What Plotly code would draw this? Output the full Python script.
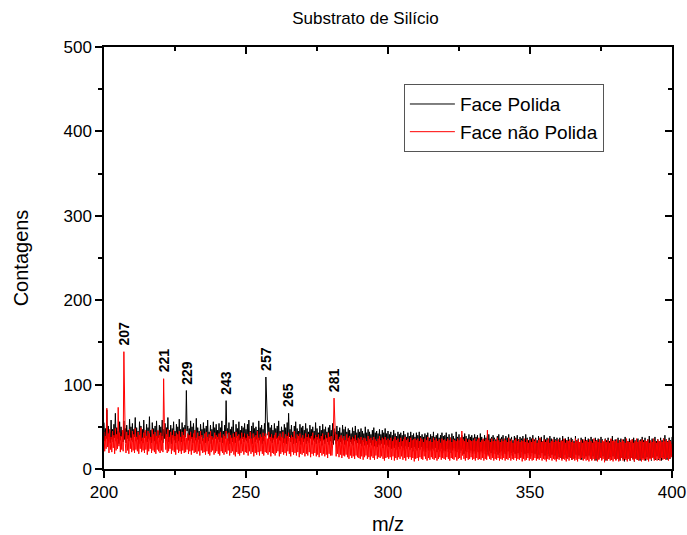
import plotly.graph_objects as go

# m/z sampling (0.25 step from 200 to 400)
mz = [200 + 0.25 * i for i in range(801)]

# Face Polida (black) counts; each row covers 10 m/z units (40 samples)
polida = [
    55, 33, 48, 36, 70, 34, 51, 38, 44, 31, 58, 35, 47, 32, 53, 37, 66, 33, 49, 36,
    45, 30, 56, 34, 50, 38, 43, 32, 57, 35, 48, 31, 52, 36, 46, 33, 59, 37, 50, 34,
    54, 32, 47, 38, 61, 33, 49, 35, 45, 30, 56, 36, 51, 33, 47, 31, 58, 37, 44, 34,
    53, 32, 49, 36, 62, 34, 46, 31, 55, 38, 48, 33, 51, 30, 57, 35, 45, 37, 52, 32,
    50, 34, 58, 31, 47, 36, 54, 33, 49, 38, 61, 32, 46, 35, 52, 30, 48, 37, 56, 34,
    45, 31, 53, 36, 50, 33, 59, 35, 47, 32, 55, 36, 49, 33, 52, 38, 93, 45, 51, 34,
    48, 33, 57, 36, 50, 31, 54, 37, 46, 34, 60, 32, 49, 35, 45, 30, 53, 38, 47, 33,
    55, 36, 48, 31, 51, 34, 58, 33, 44, 37, 52, 30, 47, 35, 56, 33, 49, 36, 53, 31,
    46, 35, 54, 32, 49, 37, 57, 31, 45, 34, 52, 36, 81, 42, 48, 33, 55, 30, 47, 36,
    50, 32, 58, 35, 44, 31, 53, 37, 48, 33, 56, 34, 46, 30, 51, 36, 49, 32, 54, 35,
    47, 33, 53, 31, 58, 36, 45, 34, 51, 30, 55, 37, 48, 32, 50, 35, 46, 31, 57, 34,
    49, 36, 52, 30, 47, 33, 54, 38, 109, 70, 58, 40, 55, 36, 49, 33, 52, 31, 46, 35,
    54, 32, 48, 36, 51, 30, 57, 34, 45, 33, 50, 37, 46, 31, 53, 35, 49, 30, 55, 33,
    66, 38, 47, 32, 52, 35, 44, 30, 51, 34, 56, 31, 48, 36, 45, 33, 53, 29, 49, 35,
    51, 32, 46, 35, 54, 30, 48, 33, 44, 31, 52, 36, 47, 29, 50, 34, 45, 32, 55, 30,
    48, 35, 43, 31, 51, 33, 46, 28, 53, 34, 47, 30, 50, 36, 44, 32, 49, 29, 52, 33,
    46, 31, 54, 29, 48, 34, 44, 30, 51, 33, 45, 28, 49, 32, 43, 30, 52, 34, 47, 29,
    50, 31, 44, 33, 48, 27, 46, 32, 42, 30, 49, 28, 45, 33, 51, 30, 43, 31, 47, 29,
    44, 30, 48, 27, 45, 32, 42, 28, 50, 31, 43, 29, 47, 26, 44, 31, 41, 28, 46, 30,
    49, 27, 43, 31, 45, 26, 42, 29, 47, 28, 41, 30, 46, 25, 43, 29, 48, 27, 42, 28,
    45, 26, 41, 29, 44, 24, 40, 27, 46, 25, 42, 28, 39, 23, 44, 26, 41, 24, 43, 27,
    40, 25, 45, 22, 41, 27, 38, 24, 43, 26, 39, 23, 44, 25, 40, 21, 42, 26, 38, 24,
    43, 22, 40, 25, 44, 23, 39, 26, 41, 21, 38, 24, 42, 20, 40, 25, 43, 22, 37, 23,
    41, 21, 39, 24, 44, 22, 38, 25, 40, 20, 42, 23, 37, 21, 40, 24, 43, 19, 39, 22,
    40, 21, 43, 24, 38, 20, 41, 23, 37, 19, 42, 22, 39, 25, 36, 21, 44, 20, 38, 23,
    41, 19, 37, 22, 40, 24, 38, 18, 42, 21, 39, 20, 36, 23, 41, 19, 38, 22, 40, 18,
    37, 21, 41, 18, 38, 22, 40, 20, 36, 17, 42, 21, 38, 19, 35, 22, 40, 18, 37, 20,
    39, 17, 41, 21, 36, 19, 38, 16, 40, 22, 37, 18, 35, 20, 39, 17, 41, 19, 36, 21,
    38, 16, 40, 20, 35, 18, 39, 15, 37, 21, 41, 17, 36, 19, 38, 16, 34, 20, 39, 18,
    37, 15, 40, 19, 35, 17, 38, 14, 36, 20, 39, 16, 35, 18, 41, 15, 37, 19, 34, 17,
    38, 15, 36, 19, 40, 14, 35, 18, 37, 16, 34, 13, 39, 17, 36, 15, 38, 19, 33, 14,
    40, 16, 35, 12, 37, 18, 34, 15, 39, 13, 36, 17, 33, 14, 38, 16, 35, 12, 37, 18,
    34, 14, 37, 16, 33, 12, 39, 15, 35, 17, 36, 13, 34, 18, 38, 14, 32, 16, 37, 11,
    35, 15, 33, 13, 39, 17, 34, 12, 36, 16, 32, 14, 37, 11, 35, 16, 33, 13, 38, 15,
    34, 12, 36, 16, 33, 14, 38, 11, 35, 15, 32, 13, 37, 10, 34, 16, 36, 12, 33, 14,
    38, 11, 35, 15, 32, 13, 36, 10, 34, 16, 37, 12, 33, 14, 35, 11, 39, 15, 32, 13,
    35, 11, 33, 15, 37, 12, 34, 10, 36, 14, 32, 12, 35, 9, 38, 13, 34, 11, 33, 15,
    36, 10, 32, 14, 35, 12, 37, 9, 34, 13, 33, 11, 36, 14, 32, 10, 35, 12, 38, 13,
    34, 12, 37, 10, 33, 14, 35, 11, 39, 13, 32, 10, 36, 14, 34, 12, 38, 11, 33, 15,
    35, 11, 33, 13, 37, 10, 34, 14, 36, 12, 40, 13, 35, 11, 33, 15, 37, 12, 34, 16,
    38,
]

# Face não Polida (red) counts
nao_polida = [
    44, 21, 39, 24, 72, 26, 42, 19, 47, 23, 38, 20, 45, 25, 40, 18, 48, 22, 41, 24,
    73, 27, 43, 20, 39, 23, 46, 21, 139, 38, 30, 19, 44, 22, 40, 18, 47, 24, 37, 20,
    45, 22, 41, 19, 48, 23, 38, 21, 44, 18, 40, 24, 49, 20, 37, 22, 43, 19, 46, 23,
    39, 17, 45, 21, 42, 24, 38, 19, 47, 22, 41, 20, 44, 18, 39, 23, 46, 21, 40, 19,
    43, 22, 39, 20, 107, 55, 45, 23, 41, 19, 47, 21, 38, 24, 44, 18, 40, 22, 46, 20,
    39, 17, 43, 23, 41, 19, 45, 21, 38, 18, 44, 22, 40, 19, 47, 20, 37, 23, 42, 18,
    40, 21, 44, 17, 38, 22, 42, 19, 46, 20, 37, 18, 43, 21, 39, 16, 45, 22, 40, 19,
    36, 20, 42, 17, 44, 21, 38, 18, 41, 16, 45, 20, 39, 22, 37, 17, 43, 19, 40, 21,
    38, 18, 42, 16, 44, 21, 37, 19, 41, 17, 39, 20, 45, 18, 36, 22, 43, 16, 40, 19,
    37, 21, 42, 17, 38, 15, 44, 20, 39, 18, 41, 16, 36, 19, 43, 21, 38, 17, 42, 20,
    37, 19, 41, 16, 39, 21, 44, 18, 36, 20, 42, 15, 38, 19, 40, 17, 45, 20, 37, 16,
    41, 21, 38, 18, 43, 16, 39, 20, 42, 19, 36, 17, 44, 20, 38, 15, 41, 19, 37, 18,
    40, 16, 43, 19, 37, 21, 39, 15, 42, 18, 38, 20, 44, 17, 36, 19, 41, 16, 39, 21,
    43, 18, 37, 15, 40, 20, 38, 17, 45, 19, 36, 16, 41, 20, 39, 14, 42, 18, 37, 17,
    40, 19, 36, 15, 42, 18, 38, 16, 41, 20, 37, 14, 39, 18, 43, 16, 36, 19, 40, 15,
    38, 17, 41, 14, 36, 19, 39, 16, 42, 18, 35, 15, 40, 17, 37, 13, 43, 18, 38, 16,
    39, 16, 36, 40, 84, 45, 37, 15, 41, 18, 35, 14, 38, 17, 40, 13, 36, 16, 39, 15,
    34, 17, 41, 14, 37, 12, 39, 16, 35, 13, 38, 15, 36, 12, 40, 16, 34, 14, 37, 13,
    35, 12, 38, 15, 34, 11, 37, 14, 36, 16, 33, 12, 39, 14, 35, 11, 37, 15, 34, 13,
    38, 11, 35, 16, 33, 12, 36, 14, 39, 13, 34, 15, 37, 12, 35, 10, 38, 13, 34, 14,
    36, 12, 34, 14, 37, 11, 33, 15, 35, 10, 38, 13, 34, 11, 36, 14, 32, 12, 37, 15,
    33, 11, 35, 13, 38, 10, 34, 14, 36, 12, 32, 14, 37, 11, 34, 13, 35, 9, 36, 12,
    34, 13, 36, 10, 33, 14, 37, 12, 35, 11, 32, 15, 36, 12, 34, 10, 38, 13, 33, 11,
    35, 14, 32, 12, 37, 11, 34, 13, 36, 10, 33, 12, 35, 14, 31, 11, 36, 13, 34, 12,
    35, 11, 33, 14, 36, 12, 34, 10, 37, 13, 32, 12, 35, 11, 34, 14, 33, 10, 36, 12,
    34, 13, 37, 11, 45, 16, 35, 12, 33, 10, 36, 13, 32, 11, 35, 12, 34, 14, 33, 11,
    34, 12, 36, 10, 33, 13, 35, 11, 37, 12, 32, 11, 34, 13, 36, 10, 33, 12, 35, 11,
    46, 15, 34, 12, 32, 11, 36, 13, 33, 10, 35, 12, 33, 11, 37, 13, 34, 10, 32, 12,
    35, 11, 33, 13, 36, 10, 34, 12, 32, 11, 37, 13, 33, 10, 35, 12, 31, 11, 34, 13,
    36, 10, 33, 12, 35, 11, 32, 13, 34, 9, 33, 12, 36, 10, 32, 11, 35, 13, 31, 10,
    34, 12, 32, 10, 36, 11, 33, 13, 35, 10, 31, 12, 34, 11, 37, 13, 32, 10, 33, 12,
    35, 11, 32, 9, 34, 12, 36, 11, 31, 13, 33, 10, 35, 12, 32, 11, 34, 9, 33, 12,
    35, 11, 32, 13, 34, 10, 33, 12, 36, 11, 31, 9, 34, 12, 33, 10, 35, 13, 32, 11,
    34, 12, 31, 10, 36, 11, 33, 9, 35, 12, 32, 11, 34, 13, 31, 10, 35, 12, 33, 10,
    34, 11, 32, 9, 35, 12, 33, 10, 31, 12, 36, 10, 33, 12, 34, 9, 32, 11, 35, 13,
    31, 10, 34, 12, 33, 8, 35, 11, 32, 10, 34, 12, 31, 10, 36, 11, 33, 9, 34, 12,
    33, 10, 35, 12, 31, 9, 34, 11, 32, 13, 35, 10, 33, 12, 31, 11, 36, 9, 33, 12,
    32, 10, 34, 13, 35, 11, 31, 9, 33, 12, 36, 11, 32, 10, 34, 12, 33, 9, 35, 11,
    32, 10, 34, 12, 33, 11, 35, 9, 31, 12, 34, 11, 32, 13, 36, 10, 33, 12, 31, 10,
    35, 12, 33, 10, 34, 13, 32, 11, 36, 12, 33, 11, 35, 13, 32, 10, 34, 12, 33, 14,
    30,
]

# Labelled peaks
peak_mz = [207, 221, 229, 243, 257, 265, 281]
peak_counts = [139, 107, 93, 81, 109, 66, 84]

FONT = "Liberation Sans, Arial, sans-serif"

fig = go.Figure()
fig.add_trace(go.Scatter(x=mz, y=polida, mode="lines", name="Face Polida",
                         line=dict(color="black", width=1)))
fig.add_trace(go.Scatter(x=mz, y=nao_polida, mode="lines", name="Face não Polida",
                         line=dict(color="#ff0000", width=1)))
# dummy trace for mirrored (top/right) axes
fig.add_trace(go.Scatter(x=[200], y=[0], xaxis="x2", yaxis="y2", mode="markers",
                         marker=dict(opacity=0), showlegend=False, hoverinfo="skip"))

for xm, yc in zip(peak_mz, peak_counts):
    fig.add_annotation(x=xm, y=yc, text="<b>%d</b>" % xm, showarrow=False,
                       textangle=-90, xanchor="center", yanchor="bottom", yshift=4,
                       font=dict(family=FONT, size=14, color="black"))

axis_common = dict(showline=True, linecolor="black", linewidth=1.5, showgrid=False,
                   zeroline=False, tickcolor="black", tickwidth=1.5, automargin=False)

fig.update_layout(
    width=687, height=535,
    margin=dict(l=104, r=15, t=47, b=66),
    paper_bgcolor="white", plot_bgcolor="white",
    font=dict(family=FONT, color="black"),
    title=dict(text="Substrato de Silício", x=0.532, xanchor="center",
               y=0.966, yanchor="middle", font=dict(family=FONT, size=17)),
    xaxis=dict(range=[200, 400], dtick=50, tick0=200, ticks="outside", ticklen=7,
               minor=dict(dtick=25, ticks="outside", ticklen=4, tickcolor="black", tickwidth=1.5),
               tickfont=dict(size=17), title=dict(text="m/z", font=dict(size=20), standoff=16),
               **axis_common),
    yaxis=dict(range=[0, 500], dtick=100, tick0=0, ticks="outside", ticklen=7,
               minor=dict(dtick=50, ticks="outside", ticklen=4, tickcolor="black", tickwidth=1.5),
               tickfont=dict(size=17), title=dict(text="Contagens", font=dict(size=20), standoff=29),
               **axis_common),
    xaxis2=dict(range=[200, 400], overlaying="x", side="top", anchor="y", dtick=50, tick0=200,
                ticks="inside", ticklen=7, showticklabels=False,
                minor=dict(dtick=25, ticks="inside", ticklen=4, tickcolor="black", tickwidth=1.5),
                **axis_common),
    yaxis2=dict(range=[0, 500], overlaying="y", side="right", anchor="x", dtick=100, tick0=0,
                ticks="inside", ticklen=7, showticklabels=False,
                minor=dict(dtick=50, ticks="inside", ticklen=4, tickcolor="black", tickwidth=1.5),
                **axis_common),
    legend=dict(x=0.528, y=0.912, xanchor="left", yanchor="top",
                bgcolor="white", bordercolor="#555555", borderwidth=1,
                font=dict(family=FONT, size=19), tracegroupgap=0, itemwidth=45),
    showlegend=True,
)

fig.write_html("out.html")
